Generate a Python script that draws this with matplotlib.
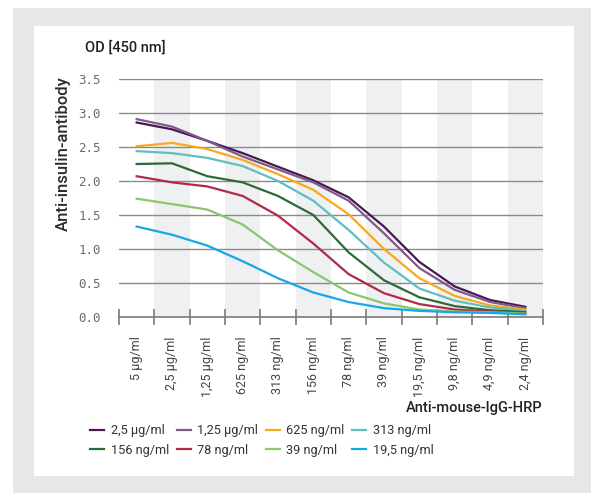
import matplotlib.pyplot as plt
from matplotlib.patches import Rectangle

# categories (anti-mouse-IgG-HRP dilution)
categories = ['5 µg/ml', '2,5 µg/ml', '1,25 µg/ml', '625 ng/ml', '313 ng/ml', '156 ng/ml',
              '78 ng/ml', '39 ng/ml', '19,5 ng/ml', '9,8 ng/ml', '4,9 ng/ml', '2,4 ng/ml']

# OD values per anti-insulin-antibody concentration
od_2_5ug = [2.86, 2.76, 2.59, 2.41, 2.21, 2.01, 1.76, 1.33, 0.81, 0.45, 0.25, 0.15]
od_1_25ug = [2.91, 2.80, 2.59, 2.36, 2.17, 1.98, 1.71, 1.23, 0.72, 0.40, 0.22, 0.13]
od_625ng = [2.51, 2.56, 2.47, 2.31, 2.10, 1.87, 1.51, 1.00, 0.57, 0.31, 0.17, 0.11]
od_313ng = [2.44, 2.41, 2.34, 2.22, 2.00, 1.71, 1.28, 0.80, 0.42, 0.24, 0.14, 0.09]
od_156ng = [2.25, 2.26, 2.07, 1.98, 1.78, 1.50, 0.95, 0.54, 0.29, 0.16, 0.10, 0.07]
od_78ng = [2.07, 1.98, 1.92, 1.78, 1.49, 1.08, 0.63, 0.35, 0.19, 0.11, 0.08, 0.06]
od_39ng = [1.74, 1.66, 1.58, 1.36, 0.98, 0.66, 0.36, 0.20, 0.11, 0.08, 0.07, 0.05]
od_19_5ng = [1.33, 1.21, 1.05, 0.82, 0.57, 0.36, 0.22, 0.13, 0.09, 0.07, 0.06, 0.04]

series_labels = ['2,5 µg/ml', '1,25 µg/ml', '625 ng/ml', '313 ng/ml',
                 '156 ng/ml', '78 ng/ml', '39 ng/ml', '19,5 ng/ml']
series = [od_2_5ug, od_1_25ug, od_625ng, od_313ng, od_156ng, od_78ng, od_39ng, od_19_5ng]
colors = ['#4b1750', '#7d5a8c', '#f9a81e', '#5fbfbd', '#2d6a35', '#b02a46', '#8cc56e', '#18a7e6']

plt.rcParams['font.family'] = ['Roboto', 'DejaVu Sans']

fig = plt.figure(figsize=(5.91, 4.93), dpi=100)
fig.patch.set_facecolor('white')

# grey frame + white card
fig.patches.append(Rectangle((13 / 591, 0), 1 - 13 / 591, 485 / 493, transform=fig.transFigure,
                             facecolor='#e6e7e8', edgecolor='none', zorder=-2))
fig.patches.append(Rectangle((34 / 591, 17 / 493), 540 / 591, 450 / 493, transform=fig.transFigure,
                             facecolor='white', edgecolor='none', zorder=-1))

ax = fig.add_axes([119 / 591, 176 / 493, 424 / 591, 238 / 493])
ax.set_facecolor('none')

x = list(range(len(categories)))

# shaded bands every second category
for i in x:
    if i % 2 == 1:
        ax.axvspan(i - 0.5, i + 0.5, color='#eff0f2', lw=0, zorder=0)

for yv in [0.5, 1.0, 1.5, 2.0, 2.5, 3.0, 3.5]:
    ax.axhline(yv, color='#8a8a8a', lw=1.0, zorder=1)

for vals, lab, c in zip(series, series_labels, colors):
    ax.plot(x, vals, color=c, lw=1.6, label=lab, zorder=3, solid_joinstyle='miter')

ax.set_xlim(-0.5, len(categories) - 0.5)
ax.set_ylim(0, 3.5)

for s in ['top', 'right', 'left']:
    ax.spines[s].set_visible(False)
ax.spines['bottom'].set_color('#7a7a7a')
ax.spines['bottom'].set_linewidth(1.2)

ax.set_yticks([0, 0.5, 1.0, 1.5, 2.0, 2.5, 3.0, 3.5])
ax.set_yticklabels(['0.0', '0.5', '1.0', '1.5', '2.0', '2.5', '3.0', '3.5'],
                   family='DejaVu Sans Mono', fontsize=9, color='#6b6b6b')
ax.tick_params(axis='y', length=0, pad=13)

ax.set_xticks(x)
ax.set_xticklabels(categories, rotation=90, fontsize=9, color='#444444')
ax.tick_params(axis='x', which='major', length=0, pad=14)
ax.set_xticks([i - 0.5 for i in range(len(categories) + 1)], minor=True)
ax.tick_params(axis='x', which='minor', length=12, direction='inout', color='#7a7a7a', width=1.2)

fig.text(85 / 591, 1 - 48 / 493, 'OD [450 nm]', fontsize=10.5, fontweight='medium',
         color='#222222', va='center', ha='left')
fig.text(63 / 591, 1 - 154 / 493, 'Anti-insulin-antibody', fontsize=12, fontweight='medium',
         color='#2a2a2a', rotation=90, va='center', ha='center')
fig.text(543 / 591, 1 - 408 / 493, 'Anti-mouse-IgG-HRP', fontsize=10.5, fontweight='medium',
         color='#222222', va='center', ha='right')

handles, labels = ax.get_legend_handles_labels()
order = [0, 4, 1, 5, 2, 6, 3, 7]
fig.legend([handles[i] for i in order], [labels[i] for i in order],
           loc='upper left', bbox_to_anchor=(84 / 591, 1 - 418 / 493), ncol=4,
           frameon=False, fontsize=9.2, handlelength=1.1, handletextpad=0.5,
           columnspacing=0.6, labelspacing=0.5, borderpad=0, labelcolor='#333333')

fig.savefig('out.png', dpi=100)
